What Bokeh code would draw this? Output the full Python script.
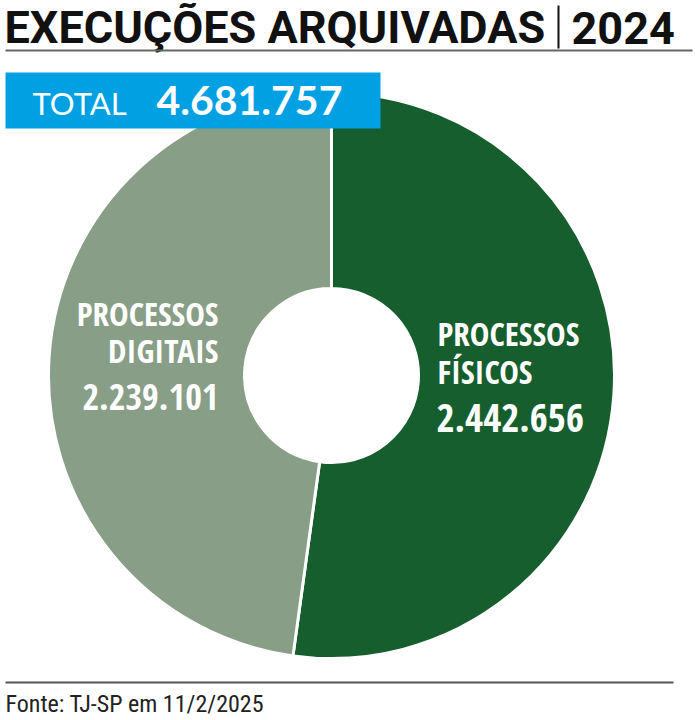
import numpy as np
from bokeh.plotting import figure
from bokeh.models import Range1d
from bokeh.core.properties import value
from bokeh.embed import file_html
from bokeh.resources import INLINE

# ---- data ----
title_text = "EXECUÇÕES ARQUIVADAS"
title_year = "2024"
total_label = "TOTAL"
total_value = "4.681.757"
categories = ["PROCESSOS FÍSICOS", "PROCESSOS DIGITAIS"]
values = [2442656, 2239101]
value_labels = ["2.442.656", "2.239.101"]
colors = ["#175e2e", "#889e86"]
source_text = "Fonte: TJ-SP em 11/2/2025"

W, H = 695, 720
COND = "Open Sans Condensed"
TITLE = "Roboto"
GEO = "Lato"

p = figure(width=W, height=H, x_range=Range1d(0, W), y_range=Range1d(0, H),
           output_backend="svg", toolbar_location=None, min_border=0)
p.axis.visible = False
p.grid.visible = False
p.outline_line_color = None
p.background_fill_color = "white"
p.border_fill_color = "white"

def Y(py):
    return H - py

def label(x, y, txt, font, size, style="normal", color="white", align="left"):
    p.text(x=[x], y=[Y(y)], text=[txt], text_font=value(font), text_font_size=size,
           text_font_style=style, text_color=color, text_baseline="alphabetic", text_align=align)

# title (y values are the visual centre of capitals)
label(4, 27, title_text, TITLE, "45px", "bold", "#111111")
p.segment(x0=[558], y0=[Y(5)], x1=[558], y1=[Y(48)], line_color="#111111", line_width=2)
label(571, 27, title_year, TITLE, "45px", "bold", "#111111")
p.segment(x0=[5], y0=[Y(50)], x1=[692], y1=[Y(50)], line_color="#666666", line_width=2)

# donut
cx, cy, r_out, r_in = 331, Y(375), 283, 87
vals = np.array(values, dtype=float)
frac = vals / vals.sum()
ang = np.cumsum(np.concatenate([[0], frac])) * 2 * np.pi
start = np.pi / 2 - ang[:-1]
end = np.pi / 2 - ang[1:]
p.annular_wedge(x=[cx] * len(vals), y=[cy] * len(vals), inner_radius=r_in, outer_radius=r_out,
                start_angle=start, end_angle=end, direction="clock",
                fill_color=colors, line_color="white", line_width=3)

# total box
p.quad(left=[5], right=[380], top=[Y(72)], bottom=[Y(128)], fill_color="#00a0e3", line_color=None)
label(32, 102, total_label, GEO, "31px")
label(156, 100, total_value, GEO, "41px", "bold")

# slice labels
label(437, 333, "PROCESSOS", COND, "33px", "bold")
label(437, 371, "FÍSICOS", COND, "33px", "bold")
label(436, 417, value_labels[0], COND, "39px", "bold")
label(218, 313, "PROCESSOS", COND, "33px", "bold", align="right")
label(218, 350, "DIGITAIS", COND, "33px", "bold", align="right")
label(218, 396, value_labels[1], COND, "36px", "bold", align="right")

# footer
p.segment(x0=[5], y0=[Y(682)], x1=[673], y1=[Y(682)], line_color="#555555", line_width=2)
label(5, 703, source_text, "Roboto Condensed", "24px", "normal", "#222222")

open("out.html", "w").write(file_html(p, INLINE))
